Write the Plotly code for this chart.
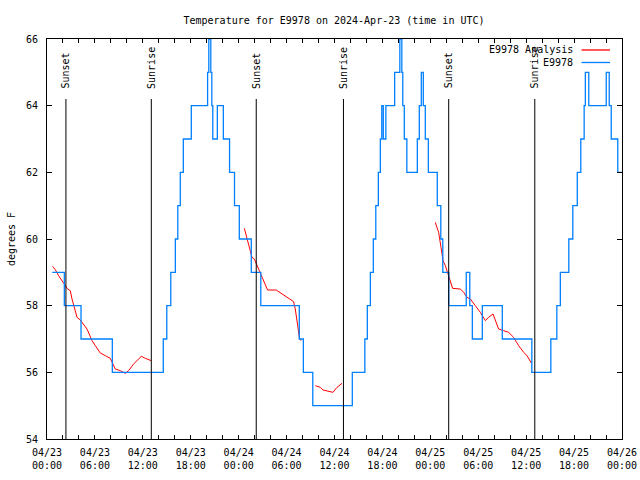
import plotly.graph_objects as go

# ---- data (hours since 2024-04-23 00:00 UTC) ----
obs_hours = [0.66, 2.17, 4.26, 8.18, 14.56, 15.0, 15.5, 16.07, 16.38, 16.69, 17.07, 18.07,
             20.11, 20.26, 20.51, 20.64, 20.76, 21.33, 22.08, 22.86, 23.48, 24.08, 25.58, 26.77,
             31.59, 32.1, 33.28, 38.23, 39.8, 40.11, 40.49, 40.86, 41.17, 41.49, 41.74, 41.92,
             42.11, 42.43, 43.53, 44.18, 44.43, 44.55, 44.74, 45.06, 46.37, 46.62, 46.87, 47.12,
             47.37, 47.75, 48.87, 49.31, 49.56, 50.31, 52.5, 52.94, 53.26, 54.51, 57.01, 60.71,
             63.09, 63.84, 64.28, 65.34, 65.84, 66.4, 66.84, 67.26, 67.41, 67.84, 70.03, 70.4,
             70.65, 71.47, 72.0]
obs_temps = [59, 58, 57, 56, 57, 58, 59, 60, 61, 62, 63, 64,
             65, 66, 65, 64, 63, 64, 63, 62, 61, 60, 59, 58,
             57, 56, 55, 56, 57, 58, 59, 60, 61, 62, 63, 64,
             63, 64, 65, 66, 65, 64, 63, 62, 63, 64, 65, 64,
             63, 62, 61, 60, 59, 58, 59, 58, 57, 58, 57, 56,
             57, 58, 59, 60, 61, 62, 63, 64, 65, 64, 65, 64,
             63, 62, 62]

ana_hours = [0.70, 1.04, 1.45, 2.17, 2.58, 2.92, 3.13, 3.76, 4.17, 5.01, 5.64, 6.05, 6.67, 7.30,
             7.92, 8.55, 9.18, 9.80, 10.22, 10.84, 11.81, 12.31, 13.06, None,
             24.71, 25.04, 25.37, 25.67, 25.96, 26.3, 26.8, 27.21, 27.62, 28.71, 29.63, 30.47,
             30.88, 31.09, 31.38, 31.63, 31.81, None,
             33.6, 34.22, 34.56, 35.26, 35.81, 36.31, 36.94, None,
             48.62, 49.04, 49.34, 49.59, 49.88, 50.17, 50.5, 50.79, 51.76, 52.17, 52.59, 53.01,
             53.63, 54.26, 54.89, 55.3, 55.85, 56.14, 56.55, 57.18, 57.8, 58.43, 59.06, 59.68,
             60.11, 60.64]
ana_temps = [59.18, 59.08, 58.9, 58.62, 58.5, 58.45, 58.2, 57.65, 57.57, 57.3, 56.95, 56.8, 56.58, 56.5,
             56.42, 56.1, 56.05, 55.97, 56.05, 56.25, 56.48, 56.42, 56.35, None,
             60.32, 60.0, 59.65, 59.45, 59.4, 59.2, 58.95, 58.7, 58.47, 58.47, 58.32, 58.2,
             58.12, 57.9, 57.4, 57.0, 56.95, None,
             55.6, 55.55, 55.47, 55.42, 55.4, 55.55, 55.67, None,
             60.5, 60.2, 59.75, 59.35, 59.2, 59.0, 58.75, 58.52, 58.5, 58.4, 58.25, 58.2,
             58.0, 57.8, 57.55, 57.65, 57.75, 57.55, 57.3, 57.25, 57.2, 57.05, 56.8, 56.6,
             56.5, 56.28]

sun_events = ["Sunset", "Sunrise", "Sunset", "Sunrise", "Sunset", "Sunrise"]
sun_hours = [2.37, 13.06, 26.2, 37.12, 50.3, 61.08]

tick_hours = list(range(0, 73, 2))
day_labels = ["04/23", "04/23", "04/23", "04/23", "04/24", "04/24", "04/24", "04/24",
              "04/25", "04/25", "04/25", "04/25", "04/26"]
hour_labels = ["00:00", "06:00", "12:00", "18:00"] * 3 + ["00:00"]

y_ticks = [54, 56, 58, 60, 62, 64, 66]

# ---- figure ----
FONT = "DejaVu Sans Mono"
RED = "#ff0000"
BLUE = "#0080ff"
W, H = 640, 480
ML, MR, MT, MB = 47, 18, 39, 41
PW, PH = W - ML - MR, H - MT - MB


def px_x(p):
    return (p - ML) / PW


def px_y(p):
    return (H - MB - p) / PH


tick_text = []
for h in tick_hours:
    if h % 6 == 0:
        i = h // 6
        tick_text.append(day_labels[i] + "<br>" + hour_labels[i])
    else:
        tick_text.append("")

fig = go.Figure()
fig.add_trace(go.Scatter(x=ana_hours, y=ana_temps, mode="lines", name="E9978 Analysis",
                         line=dict(color=RED, width=1), connectgaps=False, showlegend=False))
fig.add_trace(go.Scatter(x=obs_hours, y=obs_temps, mode="lines", name="E9978",
                         line=dict(color=BLUE, width=1.3, shape="hv"), showlegend=False))

for name, h in zip(sun_events, sun_hours):
    fig.add_shape(type="line", x0=h, x1=h, y0=54, y1=64.2, xref="x", yref="y",
                  line=dict(color="black", width=1))
    fig.add_annotation(x=h, y=64.45, xref="x", yref="y", text=name, textangle=-90,
                       showarrow=False, xanchor="center", yanchor="bottom",
                       font=dict(family=FONT, size=10, color="black"))

# legend (gnuplot style: label then sample line)
legend_items = [("E9978 Analysis", RED, 50), ("E9978", BLUE, 62.5)]
for label, col, py in legend_items:
    fig.add_annotation(x=px_x(575), y=px_y(py), xref="paper", yref="paper", text=label,
                       showarrow=False, xanchor="right", yanchor="middle",
                       font=dict(family=FONT, size=10, color="black"))
    fig.add_shape(type="line", xref="paper", yref="paper", x0=px_x(581.5), x1=px_x(610),
                  y0=px_y(py), y1=px_y(py), line=dict(color=col, width=1.3))

axis_common = dict(showline=True, linecolor="black", linewidth=1, mirror="allticks",
                   ticks="inside", tickcolor="black", showgrid=False, zeroline=False,
                   tickfont=dict(family=FONT, size=10, color="black"))

fig.update_layout(
    width=W, height=H,
    margin=dict(l=ML, r=MR, t=MT, b=MB, autoexpand=False),
    paper_bgcolor="white", plot_bgcolor="white",
    title=dict(text="Temperature for E9978 on 2024-Apr-23 (time in UTC)",
               x=px_x(334), xref="paper", xanchor="center",
               y=1 - 20 / H, yref="container", yanchor="middle",
               font=dict(family=FONT, size=10, color="black")),
    xaxis=dict(range=[0, 72], tickmode="array", tickvals=tick_hours, ticktext=tick_text,
               ticklen=4, ticklabelstandoff=4, automargin=False, **axis_common),
    yaxis=dict(range=[54, 66], tickmode="array", tickvals=y_ticks,
               ticktext=[str(v) for v in y_ticks], ticklen=5, ticklabelstandoff=6,
               automargin=False,
               title=dict(text="degrees F", standoff=8,
                          font=dict(family=FONT, size=10, color="black")),
               **axis_common),
    showlegend=False,
)

fig.write_html("out.html", config={"displayModeBar": False},
               post_script="document.body.style.margin='0';")
